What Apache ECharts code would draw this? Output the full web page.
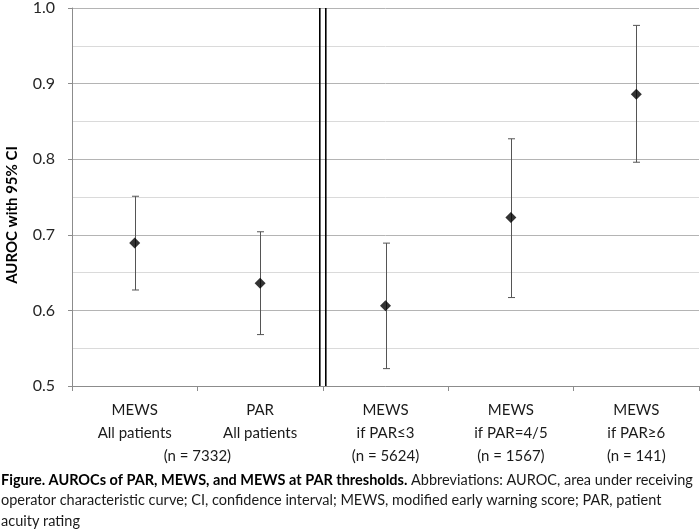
<!DOCTYPE html>
<html>
<head>
<meta charset="utf-8">
<script src="https://cdn.jsdelivr.net/npm/echarts@6/dist/echarts.min.js"></script>
<style>html,body{margin:0;padding:0;background:#fff;}#c{width:700px;height:531px;}</style>
</head>
<body>
<div id="c"></div>
<script>
const categories = ['MEWS\nAll patients', 'PAR\nAll patients', 'MEWS\nif PAR≤3', 'MEWS\nif PAR=4/5', 'MEWS\nif PAR≥6'];
const auroc = [0.689, 0.636, 0.606, 0.723, 0.886];
const ciLow = [0.627, 0.568, 0.523, 0.617, 0.796];
const ciHigh = [0.751, 0.704, 0.689, 0.827, 0.977];
const nLabels = ['(n = 7332)', '(n = 5624)', '(n = 1567)', '(n = 141)'];
const nSpans = [[0, 1], [2, 2], [3, 3], [4, 4]];
const dividerAfter = 1;
const yTicks = [0.5, 0.6, 0.7, 0.8, 0.9, 1.0];

const FONT = 'Lato, "Open Sans", sans-serif';
const chart = echarts.init(document.getElementById('c'), null, {renderer: 'canvas'});

const option = {
  animation: false,
  backgroundColor: '#fff',
  grid: {left: 72, right: 1, top: 6, bottom: 145, containLabel: false},
  xAxis: {
    type: 'category',
    data: categories,
    boundaryGap: true,
    axisLine: {lineStyle: {color: '#8c8c8c', width: 1}},
    axisTick: {show: true, length: 5, lineStyle: {color: '#8c8c8c'}},
    axisLabel: {color: '#1a1a1a', fontFamily: FONT, fontSize: 15, lineHeight: 23, margin: 13, interval: 0},
    splitLine: {show: false}
  },
  yAxis: {
    type: 'value',
    min: yTicks[0],
    max: yTicks[yTicks.length - 1],
    interval: 0.1,
    axisLine: {show: true, lineStyle: {color: '#8c8c8c'}},
    axisTick: {show: true, length: 4, lineStyle: {color: '#8c8c8c'}},
    axisLabel: {color: '#262626', fontFamily: FONT, fontSize: 16, margin: 17, formatter: v => v.toFixed(1)},
    splitLine: {show: true, lineStyle: {color: '#b4b4b4', width: 1}},
    minorTick: {show: false, splitNumber: 2},
    minorSplitLine: {show: true, lineStyle: {color: '#dadada', width: 1}}
  },
  series: [
    {
      type: 'custom',
      name: 'divider',
      data: [[dividerAfter, yTicks[0], yTicks[yTicks.length - 1]]],
      encode: {x: 0, y: [1, 2]},
      z: 3,
      renderItem: function (params, api) {
        const a = api.coord([api.value(0), api.value(1)]);
        const b = api.coord([api.value(0) + 1, api.value(2)]);
        const x = (a[0] + b[0]) / 2;
        const st = {stroke: '#000', lineWidth: 1.6};
        return {type: 'group', children: [
          {type: 'line', shape: {x1: x - 3, y1: a[1], x2: x - 3, y2: b[1]}, style: st},
          {type: 'line', shape: {x1: x + 3, y1: a[1], x2: x + 3, y2: b[1]}, style: st}
        ]};
      }
    },
    {
      type: 'custom',
      name: 'CI',
      data: categories.map((c, i) => [i, ciLow[i], ciHigh[i]]),
      encode: {x: 0, y: [1, 2]},
      z: 4,
      renderItem: function (params, api) {
        const lo = api.coord([api.value(0), api.value(1)]);
        const hi = api.coord([api.value(0), api.value(2)]);
        const st = {stroke: '#555', lineWidth: 1};
        const x = Math.round(lo[0]) + 0.5;
        return {type: 'group', children: [
          {type: 'line', shape: {x1: x, y1: lo[1], x2: x, y2: hi[1]}, style: st},
          {type: 'line', shape: {x1: x - 3.5, y1: lo[1], x2: x + 3.5, y2: lo[1]}, style: st},
          {type: 'line', shape: {x1: x - 3.5, y1: hi[1], x2: x + 3.5, y2: hi[1]}, style: st}
        ]};
      }
    },
    {
      type: 'scatter',
      name: 'AUROC',
      data: auroc,
      symbol: 'diamond',
      symbolSize: 11,
      itemStyle: {color: '#000'},
      z: 5
    },
    {
      type: 'custom',
      name: 'n',
      data: nSpans.map((s, k) => [s[0], yTicks[0], s[1], k]),
      encode: {x: 0, y: 1},
      z: 5,
      clip: false,
      renderItem: function (params, api) {
        const a = api.coord([api.value(0), api.value(1)]);
        const b = api.coord([api.value(2), api.value(1)]);
        return {
          type: 'text',
          x: (a[0] + b[0]) / 2,
          y: a[1] + 70,
          style: {text: nLabels[api.value(3)], fill: '#1a1a1a', font: '15px ' + FONT, textAlign: 'center', textVerticalAlign: 'middle'}
        };
      }
    }
  ],
  graphic: [
    {
      type: 'text',
      x: 12, y: 215,
      rotation: Math.PI / 2,
      style: {text: 'AUROC with 95% CI', fill: '#000', font: 'bold 15px ' + FONT, textAlign: 'center', textVerticalAlign: 'middle'}
    },
    {
      type: 'text',
      left: 1, top: 470,
      style: {
        text: '{b|Figure. AUROCs of PAR, MEWS, and MEWS at PAR thresholds.} Abbreviations: AUROC, area under receiving\noperator characteristic curve; CI, confidence interval; MEWS, modified early warning score; PAR, patient\nacuity rating',
        fill: '#1a1a1a',
        font: '14.5px ' + FONT,
        lineHeight: 20.5,
        rich: {b: {fontWeight: 'bold', fontFamily: FONT, fontSize: 14.5, fill: '#000', lineHeight: 20.5}}
      }
    }
  ]
};
chart.setOption(option);
</script>
</body>
</html>
